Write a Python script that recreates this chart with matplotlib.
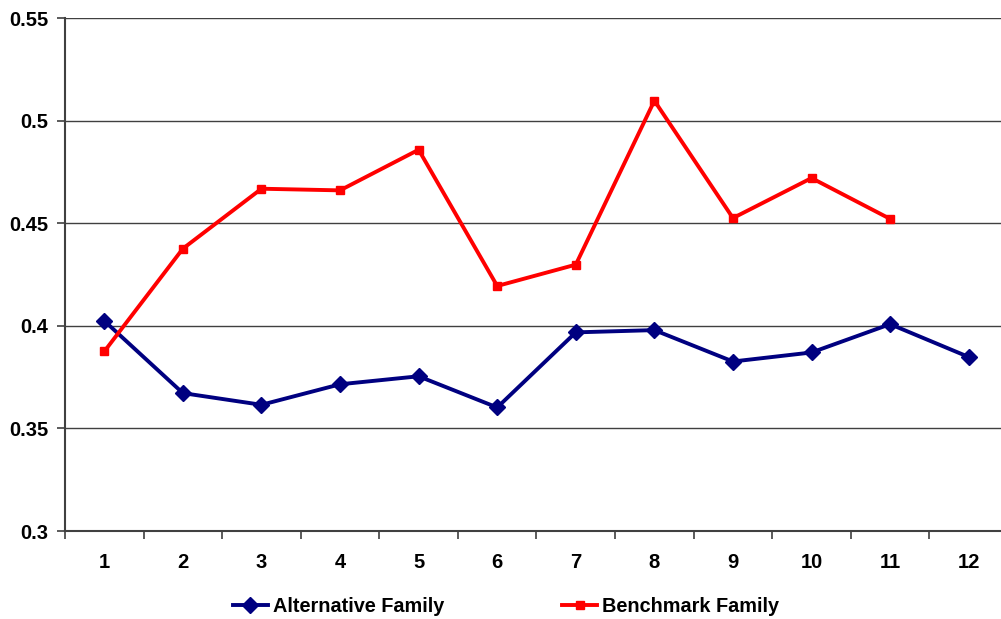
import matplotlib
matplotlib.use("Agg")
import matplotlib.pyplot as plt
from matplotlib.ticker import FixedLocator, NullFormatter, FixedFormatter

plt.rcParams['font.family'] = ['Liberation Sans', 'DejaVu Sans']

categories = ['1', '2', '3', '4', '5', '6', '7', '8', '9', '10', '11', '12']
alternative = [0.4024, 0.3672, 0.3615, 0.3715, 0.3754, 0.3602, 0.3968, 0.3979,
               0.3826, 0.3870, 0.4008, 0.3848]
benchmark = [0.3875, 0.4376, 0.4668, 0.4660, 0.4858, 0.4194, 0.4298, 0.5097,
             0.4525, 0.4720, 0.4521]
y_ticks = [0.3, 0.35, 0.4, 0.45, 0.5, 0.55]
y_labels = ['0.3', '0.35', '0.4', '0.45', '0.5', '0.55']

W, H = 1001, 619
fig = plt.figure(figsize=(W / 100, H / 100), dpi=100)
left, right, top, bottom = 65, 1008, 18, 531
ax = fig.add_axes([left / W, 1 - bottom / H, (right - left) / W, (bottom - top) / H])

x_alt = list(range(1, len(alternative) + 1))
x_ben = list(range(1, len(benchmark) + 1))

ax.plot(x_alt, alternative, color='#000080', lw=2.8, marker='D', markersize=8.5,
        label='Alternative Family', zorder=3)
ax.plot(x_ben, benchmark, color='#FF0000', lw=2.8, marker='s', markersize=5.5,
        label='Benchmark Family', zorder=4)

ax.set_xlim(0.5, len(categories) + 0.5)
ax.set_ylim(0.3, 0.55)

ax.yaxis.set_major_locator(FixedLocator(y_ticks))
ax.yaxis.set_major_formatter(FixedFormatter(y_labels))
ax.grid(axis='y', color='#404040', lw=1.0)
ax.set_axisbelow(True)

# boundaries between categories carry the tick marks, centres carry the labels
ax.xaxis.set_major_locator(FixedLocator([i + 0.5 for i in range(0, len(categories) + 1)]))
ax.xaxis.set_major_formatter(NullFormatter())
ax.xaxis.set_minor_locator(FixedLocator(list(range(1, len(categories) + 1))))
ax.xaxis.set_minor_formatter(FixedFormatter(categories))
ax.tick_params(axis='x', which='major', direction='out', length=6, width=1.2, color='#404040')
ax.tick_params(axis='x', which='minor', length=0, pad=15.5, labelsize=14.5)
ax.tick_params(axis='y', direction='out', length=6, width=1.2, color='#404040', pad=6, labelsize=14.5)
for lbl in ax.get_xticklabels(minor=True) + ax.get_yticklabels():
    lbl.set_fontweight('bold')

for s in ['top', 'right']:
    ax.spines[s].set_visible(False)
for s in ['left', 'bottom']:
    ax.spines[s].set_color('#404040')
    ax.spines[s].set_linewidth(1.5)

leg = fig.legend(loc='center', bbox_to_anchor=(506 / W, 1 - 606 / H), ncol=2, frameon=False,
                 prop={'weight': 'bold', 'size': 14.3}, handlelength=1.8, handletextpad=0.25,
                 columnspacing=5.9, borderpad=0)

fig.savefig('out.png', dpi=100)
